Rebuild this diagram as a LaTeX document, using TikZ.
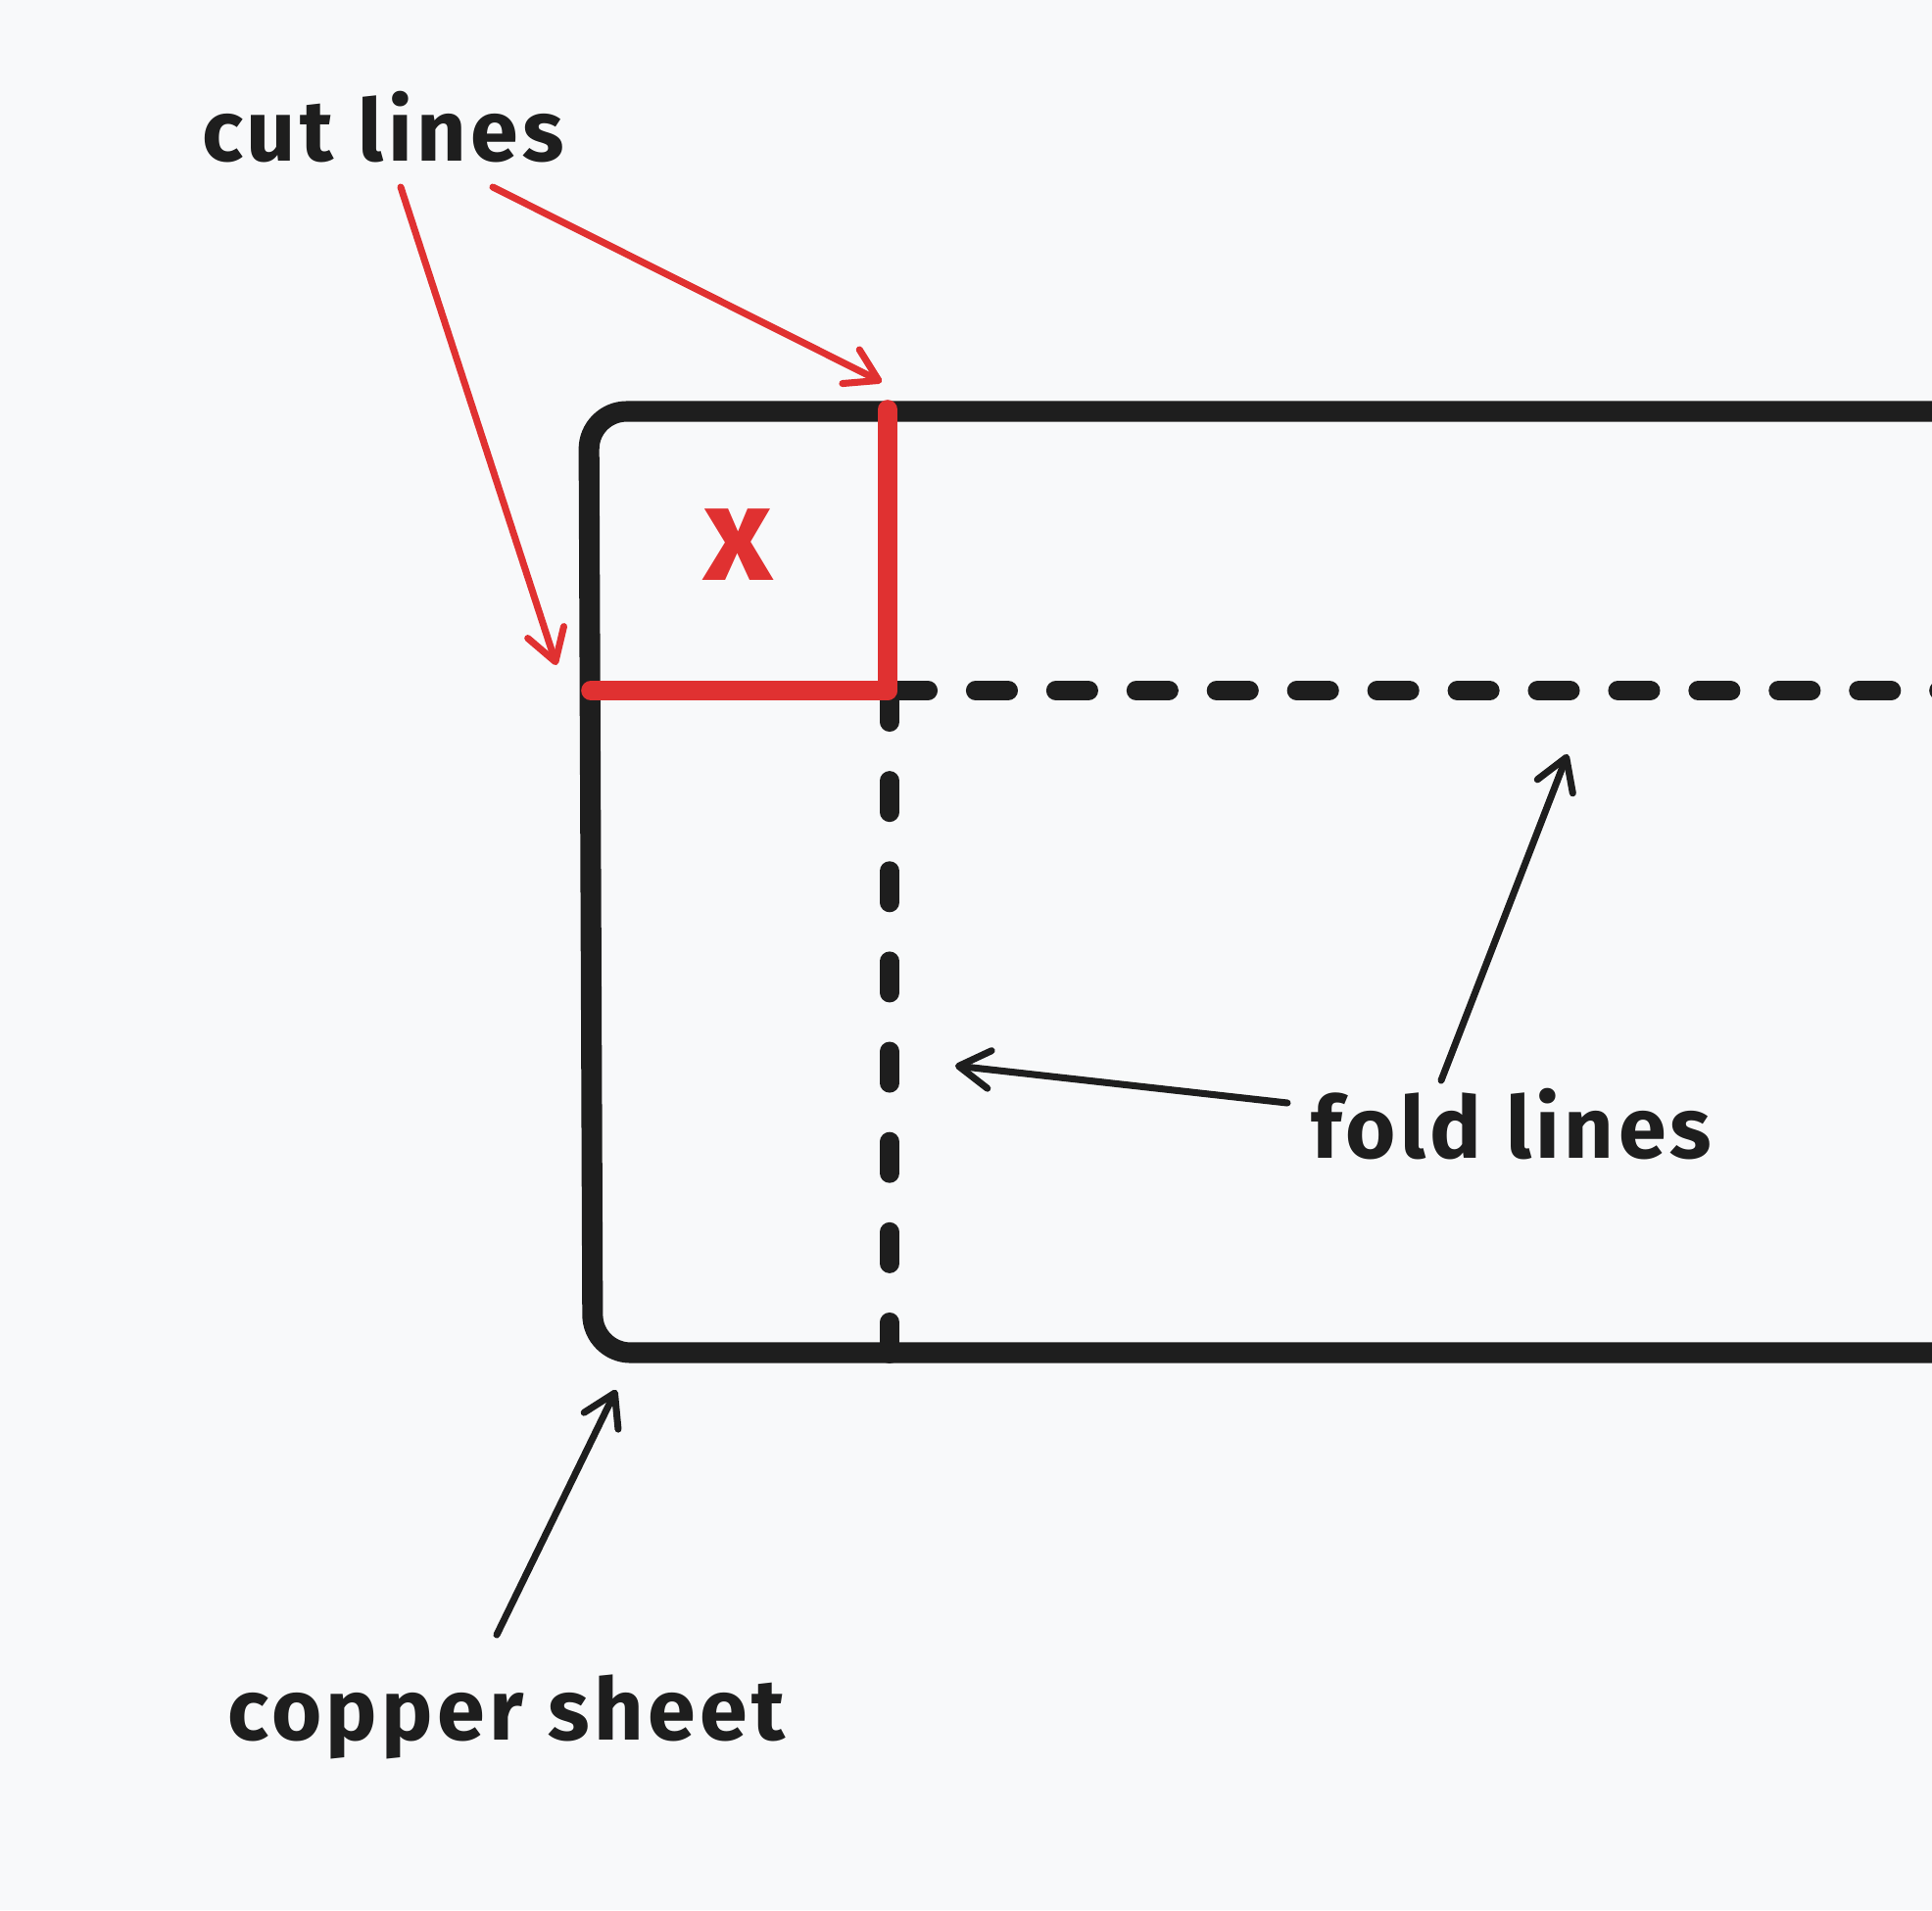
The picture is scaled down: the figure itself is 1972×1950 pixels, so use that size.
\documentclass[tikz,border=0pt]{standalone}
\usepackage{fontspec}
\setmainfont{Fira Sans}[LetterSpace=5]
\usetikzlibrary{arrows.meta}
\definecolor{ink}{HTML}{1E1E1E}
\definecolor{cutred}{HTML}{E03131}
\definecolor{paper}{HTML}{F8F9FA}

\begin{document}
\begin{tikzpicture}[x=0.01cm, y=-0.01cm,
    sheet/.style={ink, line width=6pt, line join=round, rounded corners=11pt},
    cutline/.style={cutred, line width=5.6pt, line cap=round},
    foldline/.style={ink, line width=5.7pt, line cap=round},
    pointer/.style={line width=2pt, line cap=round, -{Straight Barb[length=9pt,width=11pt,round]}},
    label/.style={font=\bfseries\fontsize{25}{30}\selectfont, text=ink, inner sep=0pt, anchor=base}]
  \fill[paper] (0,0) rectangle (1972,1950);
  \clip (0,0) rectangle (1972,1950);
  \draw[sheet] (2050,420) -- (601,420) -- (605,1381) -- (2050,1381);
  \draw[foldline, dash pattern=on 9.4pt off 13.9pt] (914,705) -- (2000,705);
  \draw[foldline, dash pattern=on 9.1pt off 17.1pt] (908,705) -- (908,1385);
  \draw[cutline] (603,705) -- (906,705);
  \draw[cutline] (906,418) -- (906,705);
  \node[label, anchor=center, text=cutred, font=\bfseries\fontsize{39}{44}\selectfont] (mark) at (754,556) {x};
  \node[label] (cut) at (391,164) {cut lines};
  \node[label] (fold) at (1543,1182) {fold lines};
  \node[label] (copper) at (517,1776) {copper sheet};
  \coordinate (cutA) at (409,191);
  \coordinate (cutAtip) at (568,679);
  \coordinate (cutB) at (503,191);
  \coordinate (cutBtip) at (900,390);
  \coordinate (foldA) at (1314,1126);
  \coordinate (foldAtip) at (975,1088);
  \coordinate (foldB) at (1471,1103);
  \coordinate (foldBtip) at (1600,770);
  \coordinate (sheetA) at (507,1669);
  \coordinate (sheetAtip) at (629,1419);
  \draw[pointer, cutred] (cutA) -- (cutAtip);
  \draw[pointer, cutred] (cutB) -- (cutBtip);
  \draw[pointer, ink] (foldA) -- (foldAtip);
  \draw[pointer, ink] (foldB) -- (foldBtip);
  \draw[pointer, ink] (sheetA) -- (sheetAtip);
\end{tikzpicture}
\end{document}
